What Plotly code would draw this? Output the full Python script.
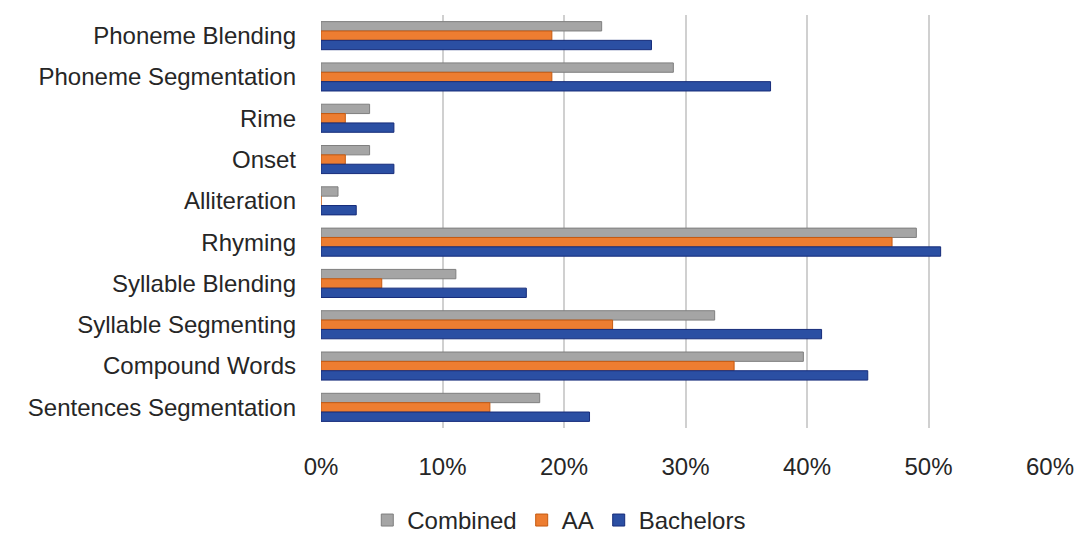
import plotly.graph_objects as go

categories = ["Phoneme Blending", "Phoneme Segmentation", "Rime", "Onset", "Alliteration",
              "Rhyming", "Syllable Blending", "Syllable Segmenting", "Compound Words",
              "Sentences Segmentation"]
combined = [0.231, 0.29, 0.04, 0.04, 0.014, 0.49, 0.111, 0.324, 0.397, 0.18]
aa = [0.19, 0.19, 0.02, 0.02, 0.0, 0.47, 0.05, 0.24, 0.34, 0.139]
bachelors = [0.272, 0.37, 0.06, 0.06, 0.029, 0.51, 0.169, 0.412, 0.45, 0.221]
x_ticks = [0, 0.1, 0.2, 0.3, 0.4, 0.5, 0.6]
x_tick_labels = ["0%", "10%", "20%", "30%", "40%", "50%", "60%"]

font_family = "Liberation Sans Narrow, Liberation Sans, Arial Narrow, sans-serif"

fig = go.Figure()
fig.add_trace(go.Bar(name="Combined", y=categories, x=combined, orientation="h",
                     marker=dict(color="#A5A5A5", line=dict(color="#7F7F7F", width=1))))
fig.add_trace(go.Bar(name="AA", y=categories, x=aa, orientation="h",
                     marker=dict(color="#ED7D31", line=dict(color="#C55A11", width=1))))
fig.add_trace(go.Bar(name="Bachelors", y=categories, x=bachelors, orientation="h",
                     marker=dict(color="#2B4FA3", line=dict(color="#162C7A", width=1))))

fig.update_layout(
    width=1086, height=541,
    barmode="group", bargap=0.32, bargroupgap=0,
    paper_bgcolor="white", plot_bgcolor="white",
    margin=dict(l=321, r=27, t=15, b=113),
    font=dict(family=font_family, size=24, color="#262626"),
    xaxis=dict(range=[0, 0.6], tickvals=x_ticks, ticktext=x_tick_labels,
               showgrid=True, gridcolor="#D0D0D0", gridwidth=2,
               zeroline=False, showline=False, ticks="", ticklabelstandoff=22),
    yaxis=dict(autorange="reversed", showgrid=False, showline=False, ticks="",
               ticklabelstandoff=24),
    legend=dict(orientation="h", xref="container", x=0.515, xanchor="center",
                yref="container", y=0.038, yanchor="middle",
                font=dict(size=24), itemwidth=30, traceorder="normal"),
    showlegend=True,
)

fig.write_html("out.html")
